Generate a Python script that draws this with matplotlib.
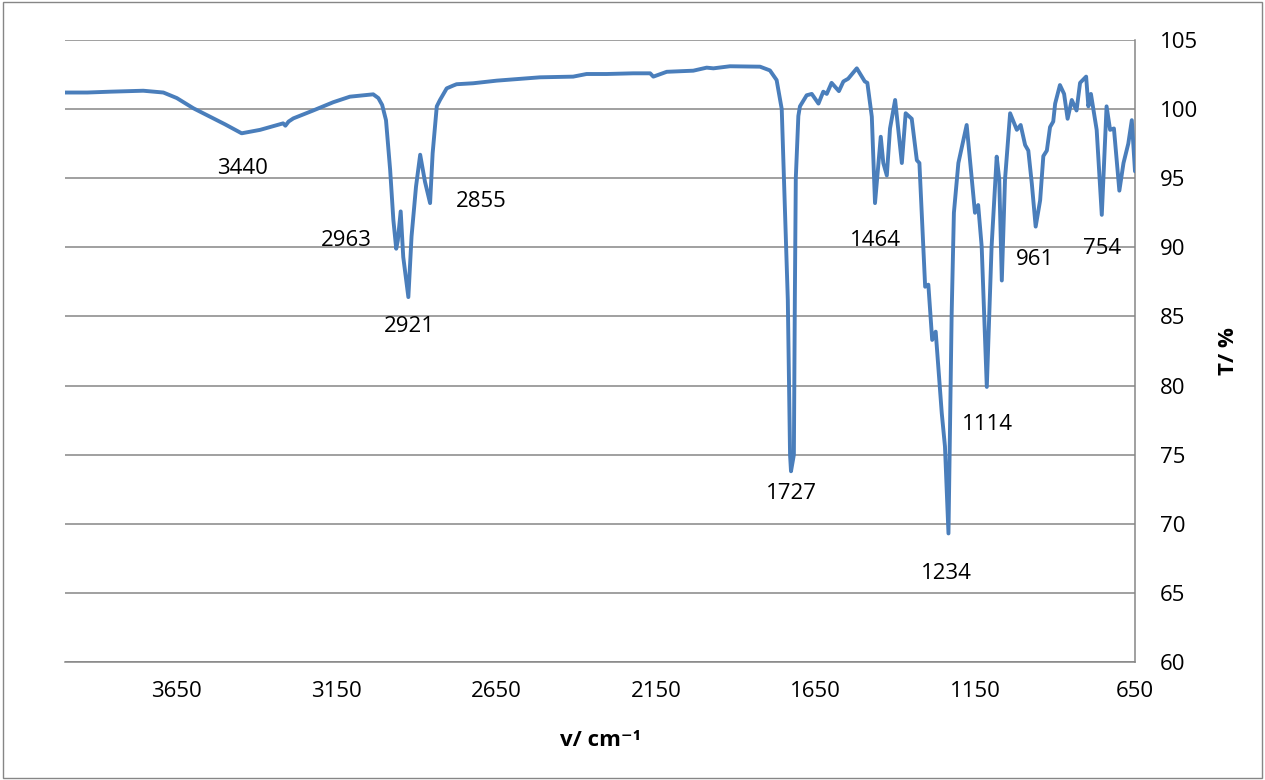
import matplotlib.pyplot as plt
from matplotlib.patches import Rectangle

plt.rcParams["font.family"] = ["Open Sans", "DejaVu Sans"]

LINE_BLUE = "#4a7ebb"
GRID_GRAY = "#868686"

# IR spectrum (wavenumber in cm-1, transmittance in %)
wavenumber = [
    4000, 3930, 3859, 3755, 3692, 3650, 3598, 3546, 3499, 3447, 3389, 3317,
    3310, 3300, 3285, 3223, 3160, 3108, 3035, 3019, 3007, 2995, 2982, 2972,
    2963, 2958, 2949, 2941, 2925, 2915, 2901, 2888, 2873, 2857, 2849, 2836,
    2826, 2805, 2785, 2774, 2722, 2648, 2513, 2409, 2367, 2304, 2221, 2168,
    2158, 2116, 2033, 1991, 1970, 1918, 1824, 1793, 1772, 1761, 1756, 1749,
    1737, 1730, 1727, 1718, 1715, 1712, 1704, 1699, 1678, 1662, 1641, 1626,
    1615, 1600, 1577, 1563, 1548, 1521, 1496, 1488, 1474, 1464, 1446, 1438,
    1427, 1417, 1401, 1380, 1368, 1349, 1333, 1325, 1307, 1297, 1285, 1274,
    1255, 1245, 1234, 1224, 1217, 1203, 1177, 1151, 1141, 1130, 1114, 1099,
    1083, 1075, 1067, 1057, 1041, 1020, 1008, 994, 984, 973, 961, 947, 937,
    926, 916, 906, 900, 885, 872, 861, 848, 833, 822, 803, 796, 788, 770,
    754, 739, 728, 716, 699, 686, 671, 660, 650,
]
transmittance = [
    101.2, 101.2, 101.26, 101.33, 101.2, 100.8, 100.06, 99.45, 98.9, 98.25, 98.5, 98.97,
    98.8, 99.1, 99.33, 99.9, 100.5, 100.9, 101.07, 100.8, 100.3, 99.2, 95.6, 92.0,
    89.9, 90.5, 92.6, 89.3, 86.4, 90.8, 94.4, 96.7, 94.75, 93.2, 96.8, 100.2,
    100.66, 101.5, 101.7, 101.8, 101.87, 102.06, 102.3, 102.35, 102.54, 102.54, 102.59, 102.59,
    102.35, 102.7, 102.78, 103.0, 102.95, 103.1, 103.07, 102.8, 102.1, 100.66, 100.0, 95.0,
    86.2, 75.0, 73.8, 75.0, 86.2, 95.0, 99.5, 100.2, 101.0, 101.1, 100.4, 101.26,
    101.1, 101.9, 101.3, 102.0, 102.2, 102.95, 102.0, 101.9, 99.45, 93.2, 98.0, 96.1,
    95.2, 98.6, 100.66, 96.1, 99.7, 99.3, 96.3, 96.1, 87.15, 87.3, 83.3, 83.9,
    78.0, 75.6, 69.3, 85.2, 92.5, 96.1, 98.85, 92.5, 93.06, 90.05, 79.9, 90.05,
    96.56, 94.9, 87.6, 94.9, 99.7, 98.5, 98.85, 97.4, 97.0, 94.6, 91.5, 93.4, 96.6,
    97.0, 98.7, 99.1, 100.4, 101.74, 101.1, 99.3, 100.66, 99.9, 101.9, 102.35, 100.2, 101.1, 98.5,
    92.35, 100.2, 98.5, 98.6, 94.1, 96.1, 97.5, 99.2, 95.5,
]

peak_labels = ["3440", "2963", "2921", "2855", "1727", "1464", "1234", "1114", "961", "754"]
label_pos = [
    (3443, 95.7), (3120, 90.5), (2923, 84.3), (2698, 93.3), (1727, 72.2),
    (1464, 90.5), (1239, 66.4), (1113, 77.15), (963, 89.1), (753, 89.95),
]

x_ticks = [3650, 3150, 2650, 2150, 1650, 1150, 650]
y_ticks = [60, 65, 70, 75, 80, 85, 90, 95, 100, 105]

fig = plt.figure(figsize=(12.65, 7.8), dpi=100)
ax = fig.add_axes([65 / 1265, 118 / 780, 1070 / 1265, 622 / 780])

ax.plot(wavenumber, transmittance, color=LINE_BLUE, linewidth=2.8,
        solid_joinstyle="round", solid_capstyle="round", zorder=3)

ax.set_xlim(4000, 650)
ax.set_ylim(60, 105)
ax.set_xticks(x_ticks)
ax.set_yticks(y_ticks)
ax.yaxis.tick_right()
ax.yaxis.set_label_position("right")
ax.tick_params(axis="both", length=0, labelsize=16, colors="black")
ax.tick_params(axis="x", pad=14)
ax.tick_params(axis="y", pad=18)

ax.grid(True, axis="y", color=GRID_GRAY, linewidth=1.1)
ax.set_axisbelow(True)
for side in ["left", "top"]:
    ax.spines[side].set_visible(False)
for side in ["bottom", "right"]:
    ax.spines[side].set_color(GRID_GRAY)
    ax.spines[side].set_linewidth(1.1)

for text, (xp, yp) in zip(peak_labels, label_pos):
    ax.text(xp, yp, text, ha="center", va="center", fontsize=16)

ax.set_xlabel("v/ cm⁻¹", fontsize=16, fontweight="bold", labelpad=20)
ax.set_ylabel("T/ %", fontsize=16, fontweight="bold", labelpad=14)

fig.patches.append(Rectangle((0.002, 0.002), 0.996, 0.996, transform=fig.transFigure,
                             fill=False, edgecolor=GRID_GRAY, linewidth=1.0))

fig.savefig("out.png", dpi=100)
